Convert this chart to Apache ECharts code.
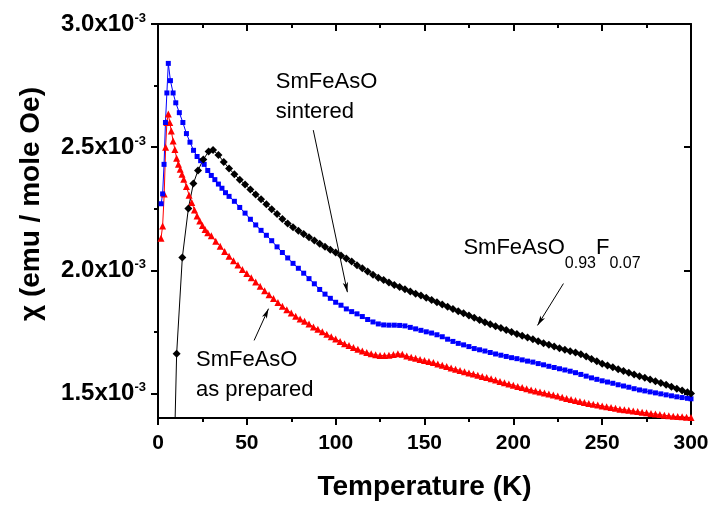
<!DOCTYPE html>
<html>
<head>
<meta charset="utf-8">
<script src="https://cdn.jsdelivr.net/npm/echarts@6/dist/echarts.min.js"></script>
<style>
  html, body { margin: 0; padding: 0; background: #fff; }
  #chart { width: 713px; height: 509px; }
</style>
</head>
<body>
<div id="chart"></div>
<script>
// chi values are in units of 1e-3 emu / mole Oe
var blueT = [1.8, 2.6, 3.4, 4.2, 5.0, 5.8, 7, 8.5, 10, 12, 14, 16, 18, 20, 22, 24, 26, 28, 30, 32, 34, 36, 38, 40,
    43, 46, 49, 52, 55, 58, 61, 64, 67, 70, 73, 76, 79, 82, 85, 88, 91, 94, 97, 100, 103, 106, 109, 112, 115, 118,
    121, 124, 127, 130, 133, 136, 139, 142, 145, 148, 151, 154, 157, 160, 163, 166, 169, 172, 175, 178, 181, 184,
    187, 190, 193, 196, 199, 202, 205, 208, 211, 214, 217, 220, 223, 226, 229, 232, 235, 238, 241, 244, 247, 250,
    253, 256, 259, 262, 265, 268, 271, 274, 277, 280, 283, 286, 289, 292, 295, 298, 300];
var blueChi = [2.27, 2.31, 2.43, 2.60, 2.72, 2.84, 2.77, 2.72, 2.68, 2.64, 2.60, 2.555, 2.52, 2.487, 2.462, 2.445,
    2.43, 2.405, 2.385, 2.368, 2.35, 2.333, 2.315, 2.30,
    2.28, 2.255, 2.232, 2.207, 2.184, 2.162, 2.142, 2.12, 2.095, 2.072, 2.05, 2.028, 2.008, 1.988, 1.966, 1.945,
    1.922, 1.903, 1.886, 1.870, 1.858, 1.843, 1.832, 1.823, 1.812, 1.800,
    1.790, 1.782, 1.778, 1.777, 1.777, 1.776, 1.774, 1.768, 1.762, 1.756, 1.750, 1.745, 1.738, 1.730, 1.720, 1.711,
    1.703, 1.697, 1.690, 1.682, 1.677, 1.672,
    1.666, 1.660, 1.655, 1.650, 1.645, 1.641, 1.636, 1.631, 1.627, 1.621, 1.616, 1.610, 1.605, 1.600, 1.595, 1.590,
    1.584, 1.577, 1.570, 1.563, 1.557, 1.551,
    1.546, 1.541, 1.535, 1.530, 1.525, 1.519, 1.514, 1.510, 1.506, 1.502, 1.498, 1.494, 1.490, 1.486, 1.483, 1.480, 1.478];

var redT = [1.7, 2.6, 3.5, 4.3, 5.0, 5.8, 6.6, 7.5, 8.5, 9.5, 10.5, 11.5, 12.5, 13.5, 14.5, 16, 17.5, 19, 20.5, 22,
    23.5, 25, 26.5, 28,
    30, 32.5, 35, 37.5, 40, 42.5, 45, 47.5, 50, 52.5, 55, 57.5, 60, 62.5, 65, 67.5, 70, 72.5, 75, 77.5,
    80, 82.5, 85, 87.5, 90, 92.5, 95, 97.5, 100, 102.5, 105, 107.5, 110, 112.5, 115, 117.5,
    120, 122.5, 125, 127.5, 130, 132.5, 135, 137.5, 140, 142.5, 145, 147.5, 150, 152.5, 155, 157.5,
    160, 162.5, 165, 167.5, 170, 172.5, 175, 177.5, 180, 182.5, 185, 187.5, 190, 192.5, 195, 197.5,
    200, 202.5, 205, 207.5, 210, 212.5, 215, 217.5, 220, 222.5, 225, 227.5, 230, 232.5, 235, 237.5,
    240, 242.5, 245, 247.5, 250, 252.5, 255, 257.5, 260, 262.5, 265, 267.5, 270, 272.5, 275, 277.5,
    280, 282.5, 285, 287.5, 290, 292.5, 295, 297.5, 300];
var redChi = [2.13, 2.18, 2.31, 2.50, 2.60, 2.635, 2.60, 2.565, 2.525, 2.49, 2.455, 2.43, 2.41, 2.39, 2.37, 2.34,
    2.305, 2.275, 2.245, 2.22, 2.20, 2.182, 2.165, 2.152,
    2.140, 2.118, 2.097, 2.076, 2.057, 2.039, 2.021, 2.003, 1.987, 1.970, 1.952, 1.935, 1.917, 1.901, 1.885, 1.869,
    1.854, 1.840, 1.826, 1.813,
    1.802, 1.793, 1.782, 1.770, 1.760, 1.750, 1.740, 1.730, 1.721, 1.711, 1.702, 1.694, 1.686, 1.679, 1.672, 1.666,
    1.661, 1.657, 1.654, 1.654, 1.655, 1.658, 1.661, 1.659, 1.652, 1.647, 1.643, 1.638, 1.634, 1.629, 1.625, 1.619,
    1.614, 1.609, 1.603, 1.598, 1.593, 1.588, 1.583, 1.579, 1.574, 1.569, 1.564, 1.559, 1.554, 1.548, 1.543, 1.538,
    1.533, 1.528, 1.524, 1.519, 1.514, 1.510, 1.506, 1.502, 1.497, 1.493, 1.489, 1.484, 1.479, 1.475, 1.471, 1.467,
    1.463, 1.459, 1.456, 1.453, 1.449, 1.446, 1.443, 1.440, 1.436, 1.434, 1.431, 1.428, 1.426, 1.423, 1.421, 1.418,
    1.416, 1.414, 1.411, 1.409, 1.407, 1.406, 1.405, 1.403, 1.402];

var blackT = [7.5, 10.5, 13.7, 17.1, 19.9, 22.5, 25.5, 28.5, 31, 34, 37, 40, 43, 46, 49, 52, 55, 58, 61, 64, 67, 70,
    73, 76, 79, 82, 85, 88, 91, 94, 97, 100, 103, 106, 109, 112, 115, 118, 121, 124, 127, 130, 133, 136, 139, 142,
    145, 148, 151, 154, 157, 160, 163, 166, 169, 172, 175, 178, 181, 184, 187, 190, 193, 196, 199, 202, 205, 208,
    211, 214, 217, 220, 223, 226, 229, 232, 235, 238, 241, 244, 247, 250, 253, 256, 259, 262, 265, 268, 271, 274,
    277, 280, 283, 286, 289, 292, 295, 298, 300];
var blackChi = [0.75, 1.661, 2.052, 2.251, 2.352, 2.405, 2.45, 2.482, 2.488, 2.468, 2.44, 2.413, 2.39, 2.368, 2.348,
    2.328, 2.308, 2.288, 2.268, 2.248, 2.228, 2.208,
    2.19, 2.175, 2.16, 2.147, 2.134, 2.121, 2.108, 2.095, 2.083, 2.072, 2.06, 2.048, 2.036, 2.02, 2.008, 1.995, 1.982,
    1.97, 1.96, 1.95, 1.94, 1.932, 1.923, 1.914,
    1.905, 1.897, 1.888, 1.879, 1.87, 1.861, 1.852, 1.843, 1.834, 1.825, 1.816, 1.807, 1.798, 1.789, 1.781, 1.773,
    1.765, 1.757, 1.749, 1.741, 1.734, 1.727,
    1.72, 1.712, 1.704, 1.697, 1.69, 1.683, 1.677, 1.671, 1.666, 1.659, 1.65, 1.64, 1.63, 1.62, 1.613, 1.606, 1.598,
    1.591, 1.584, 1.577, 1.57, 1.563,
    1.556, 1.549, 1.542, 1.535, 1.527, 1.519, 1.512, 1.505, 1.499];

var yMajor = [1.5, 2.0, 2.5, 3.0];
var yMinor = [1.75, 2.25, 2.75];

// annotation anchors in data coordinates [T, chi]
var arrows = [
    [[87.4, 2.569], [106.6, 1.911]],
    [[228.2, 1.946], [213.6, 1.776]],
    [[54.1, 1.715], [62.2, 1.844]]
];
var noteSintered = [66.3, 2.833];
var notePrepared = [21.4, 1.695];
var noteDoped = [171.9, 2.134];

var FONT = '"Liberation Sans", Arial, sans-serif';

function pairs(xs, ys) {
    return xs.map(function (x, i) { return [x, ys[i]]; });
}

var chart = echarts.init(document.getElementById('chart'), null, {renderer: 'canvas'});

var axisLine = {show: true, onZero: false, lineStyle: {color: '#000', width: 2}};

function yAxisFor(pos, values, len, inside, withLabel) {
    return {
        type: 'value', position: pos, min: 1.4, max: 3.0,
        axisLine: withLabel !== null ? axisLine : {show: false},
        axisTick: {show: true, inside: inside, length: len, customValues: values,
            lineStyle: {color: '#000', width: 2}},
        axisLabel: withLabel ? {
            show: true, customValues: values, margin: 12, color: '#000',
            formatter: function (v) { return '{a|' + v.toFixed(1) + 'x10}{b|-3}'; },
            rich: {
                a: {fontSize: 24, fontWeight: 'bold', fontFamily: FONT, color: '#000',
                    lineHeight: 24, padding: [5, 0, 5, 0]},
                b: {fontSize: 13, fontWeight: 'bold', fontFamily: FONT, color: '#000',
                    lineHeight: 13, verticalAlign: 'top'}
            }
        } : {show: false},
        splitLine: {show: false}
    };
}

var yLeft = yAxisFor('left', yMajor, 7, false, true);
yLeft.name = 'χ (emu / mole Oe)';
yLeft.nameLocation = 'middle';
yLeft.nameGap = 113;
// left padding of the rotated title lifts it a little above the axis middle
yLeft.nameTextStyle = {fontSize: 28, fontWeight: 'bold', fontFamily: FONT, color: '#000',
    padding: [0, 0, 0, 34]};

var option = {
    animation: false,
    backgroundColor: '#fff',
    grid: {left: 158, right: 22, top: 24, bottom: 91},
    xAxis: [{
        type: 'value', position: 'bottom', min: 0, max: 300, interval: 50,
        axisLine: axisLine,
        axisTick: {show: true, inside: false, length: 7, lineStyle: {color: '#000', width: 2}},
        minorTick: {show: true, splitNumber: 2, length: 4, lineStyle: {color: '#000', width: 2}},
        axisLabel: {margin: 15, fontSize: 21, fontWeight: 'bold', fontFamily: FONT, color: '#000'},
        splitLine: {show: false},
        name: 'Temperature (K)', nameLocation: 'middle', nameGap: 55,
        nameTextStyle: {fontSize: 28, fontWeight: 'bold', fontFamily: FONT, color: '#000'}
    }, {
        type: 'value', position: 'top', min: 0, max: 300, interval: 50,
        axisLine: axisLine,
        axisTick: {show: true, inside: true, length: 7, lineStyle: {color: '#000', width: 2}},
        minorTick: {show: true, splitNumber: 2, length: 4, lineStyle: {color: '#000', width: 2}},
        axisLabel: {show: false},
        splitLine: {show: false}
    }],
    yAxis: [
        yLeft,
        yAxisFor('left', yMinor, 4, false, null),
        yAxisFor('right', yMajor, 7, true, false),
        yAxisFor('right', yMinor, 4, true, null)
    ],
    series: [{
        type: 'line', name: 'SmFeAsO as prepared', data: pairs(redT, redChi),
        symbol: 'triangle', symbolSize: 7, showAllSymbol: true, clip: true,
        itemStyle: {color: '#ff0000'}, lineStyle: {color: '#ff0000', width: 1}
    }, {
        type: 'line', name: 'SmFeAsO sintered', data: pairs(blueT, blueChi),
        symbol: 'rect', symbolSize: 5, showAllSymbol: true, clip: true,
        itemStyle: {color: '#0000ff'}, lineStyle: {color: '#0000ff', width: 1}
    }, {
        type: 'line', name: 'SmFeAsO0.93F0.07', data: pairs(blackT, blackChi),
        symbol: 'diamond', symbolSize: 8, showAllSymbol: true, clip: true,
        itemStyle: {color: '#000'}, lineStyle: {color: '#000', width: 1},
        markLine: {
            silent: true, animation: false,
            symbol: ['none', 'arrow'], symbolSize: [4, 10],
            label: {show: false},
            lineStyle: {color: '#000', width: 1, type: 'solid'},
            data: arrows.map(function (a) { return [{coord: a[0]}, {coord: a[1]}]; })
        }
    }]
};

chart.setOption(option);

function px(c) { return chart.convertToPixel({seriesIndex: 0}, c); }

var pS = px(noteSintered), pP = px(notePrepared), pD = px(noteDoped);
var noteFont = {fontSize: 22, fontFamily: FONT, fill: '#000'};

chart.setOption({
    graphic: [{
        type: 'text', x: pS[0], y: pS[1] + 2, silent: true,
        style: Object.assign({text: 'SmFeAsO\nsintered', lineHeight: 30, textVerticalAlign: 'top'}, noteFont)
    }, {
        type: 'text', x: pP[0], y: pP[1], silent: true,
        style: Object.assign({text: 'SmFeAsO\nas prepared', lineHeight: 30, textVerticalAlign: 'top'}, noteFont)
    }, {
        type: 'text', x: pD[0], y: pD[1], silent: true,
        style: {
            text: '{a|SmFeAsO}{s|0.93}{a|F}{s|0.07}', textVerticalAlign: 'top',
            rich: {
                a: {fontSize: 22, fontFamily: FONT, fill: '#000', lineHeight: 22, verticalAlign: 'top'},
                // tall line box puts the subscript centre well below the main text
                s: {fontSize: 16, fontFamily: FONT, fill: '#000', lineHeight: 52, verticalAlign: 'middle'}
            }
        }
    }]
});
</script>
</body>
</html>
